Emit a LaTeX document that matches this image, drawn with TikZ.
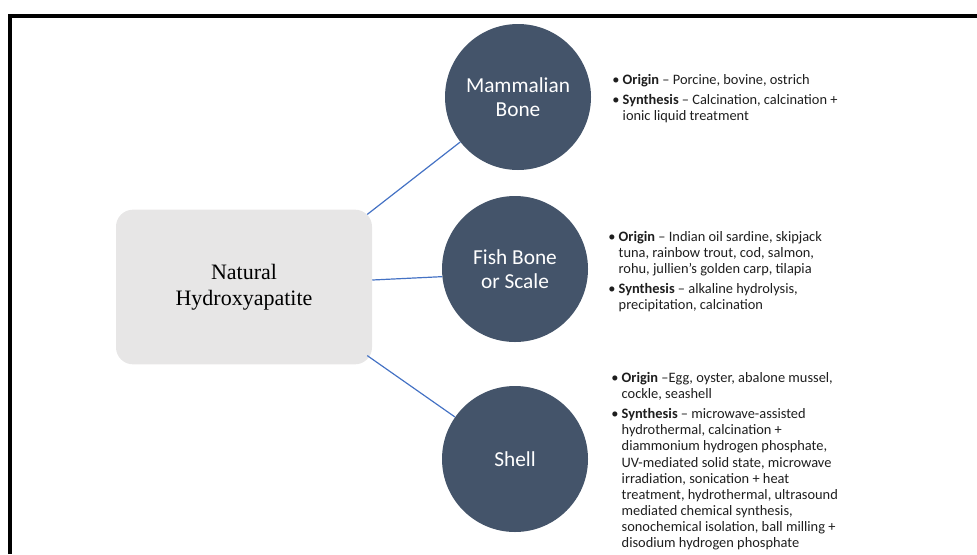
\documentclass[tikz,border=0pt]{standalone}
\usepackage{fontspec}
\setmainfont{Carlito}
\newfontfamily\timesfont{Liberation Serif}
\usetikzlibrary{positioning}
\usetikzlibrary{shapes, backgrounds, calc}
\definecolor{slateblue}{RGB}{68,84,106}
\definecolor{paleg}{RGB}{231,230,230}
\definecolor{linkblue}{RGB}{68,114,196}
\definecolor{bodytext}{RGB}{30,30,30}
\newcommand{\bul}{\textbullet\ }
\newcommand{\cont}{\hphantom{\textbullet\ }}

\begin{document}
\begin{tikzpicture}[x=0.75pt, y=-0.75pt, font=\small]%
            \tikzstyle{src} = [ rectangle, rounded corners = 12.75pt, fill = paleg, minimum width = 192pt, minimum height = 116pt, inner sep = 0pt, align = center, text = black, font = \timesfont\fontsize{16.5}{19.5}\selectfont]
            \tikzstyle{kind} = [ circle, fill = slateblue, minimum size = 109.5pt, inner sep = 0pt, align = center, text = white, font = \fontsize{16}{18}\selectfont]
            \tikzstyle{info} = [ anchor = north west, inner sep = 0pt, align = left, text = bodytext, font = \fontsize{10.8}{12.1}\selectfont]
            \tikzstyle{link} = [ draw = linkblue, line width = 0.9pt]
            \useasboundingbox (0,0) rectangle (977,554);
        %%
            %% Frame
            \draw[line width = 3.6pt] (10,554) -- (10,16) -- (977,16);

            %% Source
            \node [src] (hap) at (244,287) {Natural\\Hydroxyapatite};

            %% Kinds
            \node [kind] (mb) at (518,97)  {Mammalian\\Bone};
            \node [kind] (fb) at (515,269) {Fish Bone\\or Scale};
            \node [kind] (sh) at (515,459) {Shell};

            %% Details
            \node [info] (mb_txt) at (612,74)  {\bul\textbf{Origin} -- Porcine, bovine, ostrich\\[3pt]
                \bul\textbf{Synthesis} -- Calcination, calcination +\\
                \cont ionic liquid treatment};
            \node [info] (fb_txt) at (608,231) {\bul\textbf{Origin} -- Indian oil sardine, skipjack\\
                \cont tuna, rainbow trout, cod, salmon,\\
                \cont rohu, jullien’s golden carp, tilapia\\[3pt]
                \bul\textbf{Synthesis} -- alkaline hydrolysis,\\
                \cont precipitation, calcination};
            \node [info] (sh_txt) at (611,372) {\bul\textbf{Origin} --Egg, oyster, abalone mussel,\\
                \cont cockle, seashell\\[3pt]
                \bul\textbf{Synthesis} -- microwave-assisted\\
                \cont hydrothermal, calcination +\\
                \cont diammonium hydrogen phosphate,\\
                \cont UV-mediated solid state, microwave\\
                \cont irradiation, sonication + heat\\
                \cont treatment, hydrothermal, ultrasound\\
                \cont mediated chemical synthesis,\\
                \cont sonochemical isolation, ball milling +\\
                \cont disodium hydrogen phosphate};

            %% Links
            \coordinate (hap_ne) at ($(hap.north east)+(-5,5)$);
            \coordinate (hap_e)  at ($(hap.east)+(0,-7)$);
            \coordinate (hap_se) at ($(hap.south east)+(-5,-9)$);
            \draw[link] (hap_ne) -- (mb);
            \draw[link] (hap_e)  -- (fb.186);
            \draw[link] (hap_se) -- (sh);
\end{tikzpicture}
\end{document}
